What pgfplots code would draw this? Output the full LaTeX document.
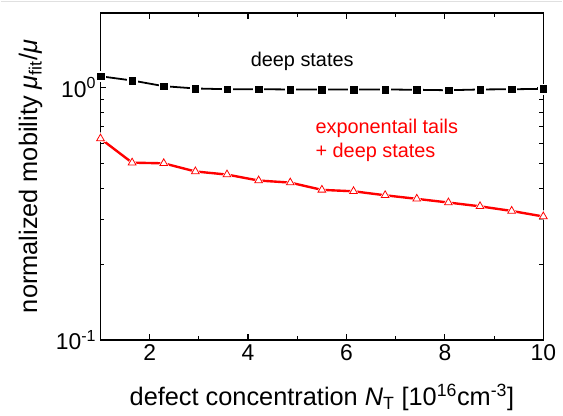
\documentclass[border=0pt]{standalone}
\usepackage{fontspec}
\setmainfont{Liberation Sans}
\usepackage{pgfplots}
\usepackage{pgfplotstable}
\pgfplotsset{compat=1.18}
\pgfplotstableread{
x y
1.0000 1.111
1.6429 1.069
2.2857 1.015
2.9286 0.994
3.5714 0.987
4.2143 0.987
4.8571 0.985
5.5000 0.985
6.1429 0.985
6.7857 0.985
7.4286 0.982
8.0714 0.978
8.7143 0.985
9.3571 0.987
10.0000 0.990
}\deep
\pgfplotstableread{
x y
1.0000 0.629
1.6429 0.505
2.2857 0.502
2.9286 0.466
3.5714 0.453
4.2143 0.429
4.8571 0.421
5.5000 0.394
6.1429 0.389
6.7857 0.375
7.4286 0.363
8.0714 0.351
8.7143 0.339
9.3571 0.325
10.0000 0.309
}\tails
\begin{document}
\begin{tikzpicture}
\begin{axis}[
  scale only axis, width=444bp, height=328bp,
  ymode=log, xmin=1, xmax=10, ymin=0.1, ymax=1.98,
  axis line style={line width=1.6pt},
  tick style={black, line width=1.2pt},
  tick align=inside,
  xtick={2,4,6,8,10}, xticklabels={2,4,6,8,10},
  minor xtick={3,5,7,9},
  ytick={0.1,1}, yticklabels={10\textsuperscript{-1},10\textsuperscript{0}},
  minor ytick={0.2,0.3,0.4,0.5,0.6,0.7,0.8,0.9,2},
  major tick length=6bp, minor tick length=4bp,
  ticklabel style={font=\fontsize{23}{26}\selectfont},
  xticklabel style={yshift=-1bp},
  yticklabel style={xshift=-1bp},
  label style={font=\fontsize{25.5}{28}\selectfont},
  xlabel={defect concentration {\itshape N}\textsubscript{T} [10\textsuperscript{16}cm\textsuperscript{-3}]},
  ylabel={normalized mobility {\itshape μ}\textsubscript{fit}/{\itshape μ}},
  xlabel style={at={(axis description cs:0.5,-0.2012)}, anchor=base},
  ylabel style={at={(axis description cs:-0.1577,0.5)}, anchor=center},
  clip=false,
]
\addplot[black, line width=1.8pt, no marks] table {\deep};
\addplot[only marks, mark=square*, mark size=5bp, draw=white, fill=white] table {\deep};
\addplot[only marks, mark=square*, mark size=3.3bp, black] table {\deep};
\addplot[red, line width=2.4pt, no marks] table {\tails};
\addplot[only marks, mark=triangle*, mark size=6bp, draw=white, fill=white] table {\tails};
\addplot[only marks, mark=triangle*, mark size=4.5bp, draw=red, fill=white, line width=0.8pt] table {\tails};
\node[font=\fontsize{20}{24}\selectfont, anchor=center] at (axis cs:5.1,1.27) {deep states};
\node[font=\fontsize{20}{24}\selectfont, red, anchor=west, align=left] at (axis cs:5.3,0.62) {exponentail tails\\+ deep states};
\end{axis}
\path (current axis.south west) ++(-100bp,-76bp) rectangle ++(563bp,417bp);
\draw[black!12, line width=1.5bp] (current axis.south west) ++(-100bp,339.5bp) -- ++(563bp,0);
\end{tikzpicture}
\end{document}
